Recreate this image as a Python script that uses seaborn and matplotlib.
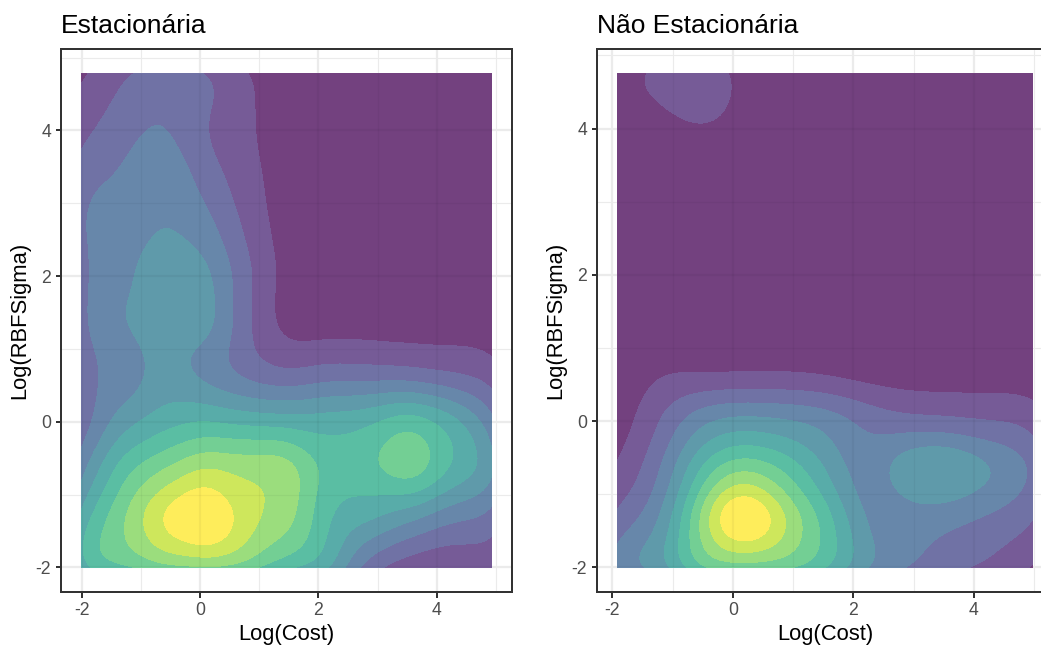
import numpy as np
import pandas as pd
import matplotlib
matplotlib.use("Agg")
import matplotlib.pyplot as plt
from matplotlib.colors import ListedColormap
from matplotlib.patches import Rectangle
from matplotlib.ticker import MultipleLocator
import seaborn as sns
from seaborn._statistics import KDE

# densidade lida do gráfico nos nós de uma grade (relativa, pico = 11)
# linhas: Log(RBFSigma) de cima para baixo; colunas: Log(Cost)
cost_est = [-2.0, -1.31, -0.62, 0.08, 0.77, 1.46, 2.15, 2.84, 3.54, 4.23, 4.92]
sigma_est = [4.78, 4.10, 3.42, 2.75, 2.07, 1.39, 0.71, 0.03, -0.64, -1.32, -2.0]
dens_est = [
    [1.1, 2.0, 2.6, 2.2, 1.3, 0.5, 0.3, 0.3, 0.3, 0.3, 0.3],
    [1.8, 2.7, 3.15, 2.3, 1.5, 0.5, 0.3, 0.3, 0.3, 0.3, 0.3],
    [2.6, 3.3, 3.9, 2.7, 1.7, 0.6, 0.3, 0.3, 0.3, 0.3, 0.3],
    [3.0, 3.7, 4.1, 3.5, 2.0, 0.8, 0.3, 0.3, 0.3, 0.3, 0.3],
    [2.9, 3.9, 4.7, 4.3, 2.5, 0.95, 0.5, 0.4, 0.4, 0.4, 0.4],
    [2.9, 4.1, 4.7, 4.5, 2.5, 1.0, 0.8, 0.8, 0.8, 0.8, 0.6],
    [2.7, 3.6, 4.5, 3.9, 2.9, 2.3, 2.5, 2.5, 2.4, 2.1, 1.6],
    [2.6, 4.6, 5.6, 6.0, 5.7, 5.5, 5.5, 5.8, 6.4, 5.4, 3.4],
    [3.8, 6.5, 8.0, 9.0, 8.7, 8.4, 6.8, 6.8, 7.5, 6.0, 4.3],
    [5.4, 7.9, 10.0, 11.0, 9.5, 8.4, 6.3, 5.3, 4.4, 3.5, 2.8],
    [5.5, 6.9, 7.7, 8.0, 7.5, 6.3, 5.2, 2.8, 1.7, 1.4, 1.4],
]

cost_nest = [-1.91, -1.22, -0.53, 0.15, 0.84, 1.53, 2.22, 2.91, 3.59, 4.28, 4.97]
sigma_nest = [4.75, 4.075, 3.40, 2.725, 2.05, 1.375, 0.70, 0.025, -0.65, -1.325, -2.0]
dens_nest = [
    [0.7, 1.25, 1.4, 0.9, 0.1, 0.1, 0.1, 0.1, 0.1, 0.1, 0.1],
    [0.5, 0.85, 1.0, 0.85, 0.1, 0.1, 0.1, 0.1, 0.1, 0.1, 0.1],
    [0.2, 0.4, 0.5, 0.3, 0.1, 0.1, 0.1, 0.1, 0.1, 0.1, 0.1],
    [0.1, 0.2, 0.2, 0.1, 0.1, 0.1, 0.1, 0.1, 0.1, 0.1, 0.1],
    [0.1, 0.1, 0.1, 0.1, 0.1, 0.1, 0.1, 0.1, 0.1, 0.1, 0.1],
    [0.1, 0.2, 0.2, 0.2, 0.2, 0.2, 0.1, 0.1, 0.1, 0.1, 0.1],
    [0.3, 0.9, 0.95, 1.0, 1.0, 0.85, 0.6, 0.5, 0.5, 0.5, 0.4],
    [0.6, 2.0, 3.6, 4.2, 4.0, 3.5, 2.7, 2.3, 2.2, 2.0, 1.6],
    [1.2, 3.0, 6.0, 7.7, 6.8, 5.0, 3.6, 4.6, 4.9, 4.0, 2.8],
    [2.3, 4.1, 8.0, 11.0, 9.0, 6.5, 4.0, 3.6, 3.4, 2.9, 2.1],
    [3.2, 4.5, 6.8, 7.4, 7.2, 6.0, 4.1, 3.0, 2.3, 1.8, 1.0],
]

N_FAIXAS = 11
SIGMA_KERNEL = 0.38
ALPHA = 0.75
# viridis com alpha 0.75 sobre fundo branco (cores opacas, sem emendas)
viridis = plt.get_cmap("viridis")(np.linspace(0, 1, N_FAIXAS))[:, :3]
paleta = ListedColormap(ALPHA * viridis + (1 - ALPHA))

sns.set_theme(style="white")
plt.rcParams["font.family"] = ["Liberation Sans", "DejaVu Sans"]
plt.rcParams["axes.unicode_minus"] = False


def montar(cost, sigma, dens):
    linhas = [(c, s, dens[i][j]) for i, s in enumerate(sigma) for j, c in enumerate(cost)]
    return pd.DataFrame(linhas, columns=["cost", "sigma", "v"])


def cov_kernel(P, w):
    wn = w / w.sum()
    cov = np.cov(P.T, aweights=wn)
    return cov, (1 / np.sum(wn ** 2)) ** (-1 / 6)


def banda(P, w):
    # bw_adjust para que o menor desvio do kernel fique em SIGMA_KERNEL
    cov, fator = cov_kernel(P, w)
    return SIGMA_KERNEL / (fator * np.sqrt(np.linalg.eigvalsh(cov).min()))


def pesos(df, n_iter=60):
    # pesos dos nós para que a KDE do seaborn reproduza a densidade lida
    # (deconvolução de Richardson-Lucy com o próprio kernel da KDE)
    P = df[["cost", "sigma"]].to_numpy()
    alvo = df["v"].to_numpy()
    w = alvo.copy()
    d = P[:, None, :] - P[None, :, :]
    for _ in range(n_iter):
        cov, _ = cov_kernel(P, w)
        K = cov * SIGMA_KERNEL ** 2 / np.linalg.eigvalsh(cov).min()
        M = np.exp(-0.5 * np.einsum("ijk,kl,ijl->ij", d, np.linalg.inv(K), d))
        w = w * (M @ (alvo / (M @ w))) / M.sum(axis=1)
    return w


def niveis(df, bw):
    # faixas de densidade igualmente espaçadas (como no ggplot),
    # convertidas para as iso-proporções que o seaborn espera
    kde = KDE(bw_adjust=bw, cut=0)
    dens, _ = kde(df["cost"], df["sigma"], weights=df["w"])
    vals = np.sort(dens.ravel())[::-1]
    total = vals.sum()
    cortes = np.linspace(vals.min(), vals.max(), N_FAIXAS + 1)
    return [1 - vals[vals >= t].sum() / total for t in cortes]


def painel(ax, df, titulo):
    df["w"] = pesos(df)
    bw = banda(df[["cost", "sigma"]].to_numpy(), df["w"].to_numpy())
    sns.kdeplot(x=df["cost"], y=df["sigma"], weights=df["w"], fill=True,
                levels=niveis(df, bw), cut=0, bw_adjust=bw, cmap=paleta, ax=ax)

    x0, x1 = df["cost"].min(), df["cost"].max()
    y0, y1 = df["sigma"].min(), df["sigma"].max()
    ax.set_xlim(x0 - 0.05 * (x1 - x0), x1 + 0.05 * (x1 - x0))
    ax.set_ylim(y0 - 0.05 * (y1 - y0), y1 + 0.05 * (y1 - y0))

    ax.xaxis.set_major_locator(MultipleLocator(2))
    ax.yaxis.set_major_locator(MultipleLocator(2))
    ax.xaxis.set_minor_locator(MultipleLocator(1))
    ax.yaxis.set_minor_locator(MultipleLocator(1))
    ax.grid(which="major", color="#EBEBEB", linewidth=1.1)
    ax.grid(which="minor", color="#EBEBEB", linewidth=0.55)
    ax.set_axisbelow(True)

    # a grade aparece levemente através do preenchimento translúcido
    area = Rectangle((x0, y0), x1 - x0, y1 - y0, transform=ax.transData)
    for k in range(-2, 6):
        lw = 1.1 if k % 2 == 0 else 0.55
        for ln in (ax.axvline(k, color="black", alpha=0.04, lw=lw, zorder=3),
                   ax.axhline(k, color="black", alpha=0.04, lw=lw, zorder=3)):
            ln.set_clip_path(area)

    ax.tick_params(which="major", length=2.75, width=1.0, color="#333333",
                   labelcolor="#4D4D4D", labelsize=8.8, pad=2.2,
                   bottom=True, left=True)
    ax.tick_params(which="minor", length=0)
    for sp in ax.spines.values():
        sp.set_color("#333333")
        sp.set_linewidth(1.0)

    ax.set_xlabel("Log(Cost)", fontsize=11, color="black", labelpad=2.75)
    ax.set_ylabel("Log(RBFSigma)", fontsize=11, color="black", labelpad=2.75)
    ax.set_title(titulo, loc="left", fontsize=13.2, color="black", pad=8)


W, H = 1041, 650
fig = plt.figure(figsize=(W / 144, H / 144), dpi=144)
ax1 = fig.add_axes([61 / W, 58 / H, 451 / W, 543 / H])
ax2 = fig.add_axes([597 / W, 58 / H, 456 / W, 543 / H])

painel(ax1, montar(cost_est, sigma_est, dens_est), "Estacionária")
painel(ax2, montar(cost_nest, sigma_nest, dens_nest), "Não Estacionária")

fig.savefig("out.png", dpi=144)
